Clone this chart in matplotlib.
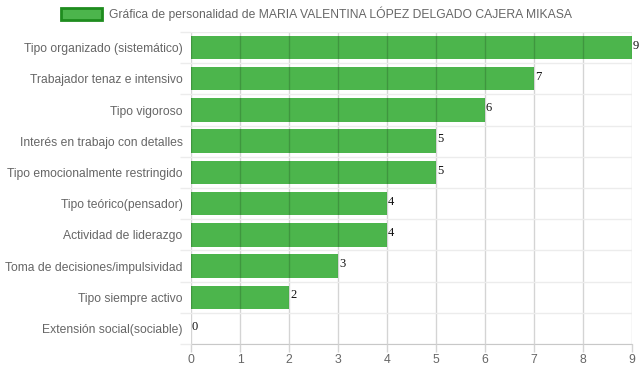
import matplotlib.pyplot as plt
from matplotlib.patches import Rectangle
import numpy as np

categories = [
    "Tipo organizado (sistemático)",
    "Trabajador tenaz e intensivo",
    "Tipo vigoroso",
    "Interés en trabajo con detalles",
    "Tipo emocionalmente restringido",
    "Tipo teórico(pensador)",
    "Actividad de liderazgo",
    "Toma de decisiones/impulsividad",
    "Tipo siempre activo",
    "Extensión social(sociable)",
]
values = [9, 7, 6, 5, 5, 4, 4, 3, 2, 0]
legend_label = "Gráfica de personalidad de MARIA VALENTINA LÓPEZ DELGADO CAJERA MIKASA"
x_ticks = list(range(0, 10))

BAR_COLOR = "#4cb54c"
EDGE_COLOR = "#1e8c1e"
TEXT_COLOR = "#666666"

plt.rcParams["font.family"] = ["Liberation Sans", "DejaVu Sans"]

W, H = 639, 372
fig = plt.figure(figsize=(W / 100, H / 100), dpi=100)
ax = fig.add_axes([191 / W, (H - 344) / H, 441 / W, 312 / H])

y = np.arange(len(categories))
ax.barh(y, values, height=0.75, color=BAR_COLOR, zorder=2)

for yi, v in zip(y, values):
    ax.text(v + 0.02, yi - 0.06, str(v), family="Liberation Serif", fontsize=9,
            color="#111111", ha="left", va="center", zorder=4, clip_on=False)

ax.set_xlim(0, 9)
ax.set_ylim(len(categories) - 0.5, -0.5)

ax.set_xticks(x_ticks)
ax.set_yticks(y)
ax.set_yticklabels(categories)
ax.set_yticks(np.arange(len(categories) + 1) - 0.5, minor=True)

ax.tick_params(axis="x", length=6, width=1, color="#d4d4d4", pad=1,
               labelsize=8.8, labelcolor=TEXT_COLOR)
ax.tick_params(axis="y", which="major", length=0, pad=6,
               labelsize=8.7, labelcolor=TEXT_COLOR)
ax.tick_params(axis="y", which="minor", length=8, width=1, color="#ececec")

ax.grid(axis="x", which="major", color="black", alpha=0.17, linewidth=1, zorder=3)
ax.grid(axis="y", which="minor", color="#ececec", linewidth=1, zorder=1)
ax.set_axisbelow(False)

for side in ["top", "right", "left"]:
    ax.spines[side].set_visible(False)
ax.spines["bottom"].set_color("#c8c8c8")

# legend drawn in pixel coordinates
fig.patches.append(Rectangle((61 / W, 1 - 20 / H), 41 / W, 12 / H,
                             transform=fig.transFigure, facecolor=BAR_COLOR,
                             edgecolor=EDGE_COLOR, linewidth=2))
fig.text(109 / W, 1 - 14 / H, legend_label, fontsize=8.7, color=TEXT_COLOR,
         ha="left", va="center")

fig.savefig("out.png", dpi=100)
